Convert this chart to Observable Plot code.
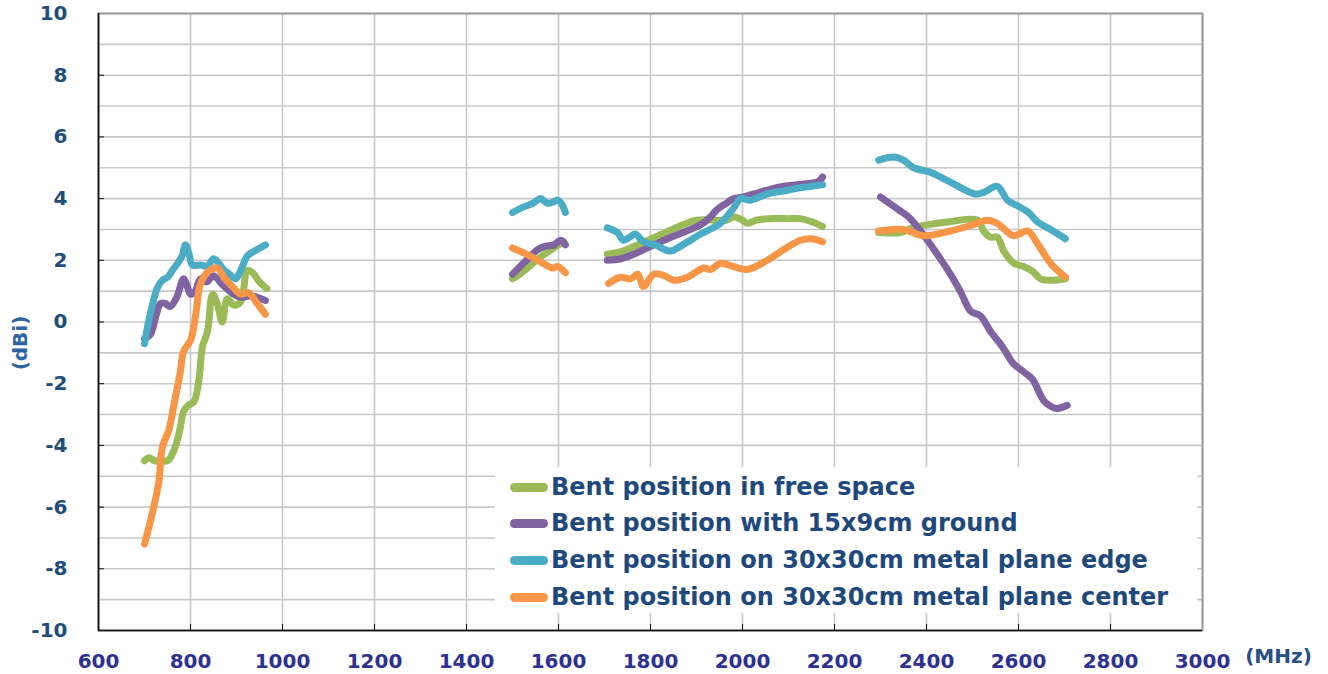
<!DOCTYPE html>
<html>
<head>
<meta charset="utf-8">
<script src="https://cdn.jsdelivr.net/npm/d3@7"></script>
<script src="https://cdn.jsdelivr.net/npm/@observablehq/plot@0.6"></script>
<style>
  html, body { margin: 0; padding: 0; background: #fff; }
  #wrap { position: relative; width: 1328px; height: 674px; }
  #legend { position: absolute; left: 495px; top: 467px; width: 702px; height: 146px; background: #fff; font-family: "DejaVu Sans", sans-serif; font-weight: bold; font-size: 24px; color: #1f497d; }
  .row { position: absolute; left: 0; height: 30px; display: flex; align-items: center; white-space: nowrap; }
  .sw { width: 38px; height: 9px; border-radius: 5px; margin-left: 15px; margin-right: 3px; }
</style>
</head>
<body>
<div id="wrap"></div>
<script>
// ---- data (MHz, dBi); null separates measured bands ----
const freeSpaceFreq = [700,710,722,735,750,760,770,778,785,795,807,818,826,837,848,858,869,880,894,909,924,935,950,966, null,
  1500,1520,1540,1560,1580,1600,1612, null,
  1706,1740,1780,1810,1840,1870,1900,1945,1965,1981,2000,2010,2030,2054,2100,2126,2150,2174, null,
  2296,2343,2370,2402,2450,2511,2524,2539,2554,2568,2590,2611,2630,2648,2670,2702];
const freeSpaceGain = [-4.5,-4.4,-4.5,-4.5,-4.5,-4.3,-3.9,-3.4,-2.9,-2.7,-2.6,-1.9,-0.8,-0.3,0.9,0.6,0.0,0.75,0.55,0.65,1.67,1.6,1.3,1.08, null,
  1.4,1.6,1.85,2.1,2.3,2.5,2.6, null,
  2.2,2.3,2.55,2.75,2.95,3.15,3.3,3.3,3.3,3.4,3.3,3.2,3.3,3.35,3.35,3.35,3.25,3.1, null,
  2.9,2.9,3.05,3.15,3.25,3.3,2.95,2.75,2.75,2.3,1.9,1.8,1.65,1.4,1.35,1.4];

const groundFreq = [700,713,725,735,745,756,770,785,792,800,810,822,835,850,870,894,910,930,945,963, null,
  1500,1520,1540,1555,1570,1590,1605,1615, null,
  1706,1735,1764,1800,1837,1870,1909,1930,1945,1965,1981,2000,2024,2060,2089,2120,2148,2165,2174, null,
  2300,2343,2365,2402,2430,2452,2475,2496,2517,2539,2565,2589,2610,2630,2655,2672,2685,2706];
const groundGain = [-0.55,-0.4,0.2,0.6,0.6,0.5,0.8,1.4,1.2,0.9,1.0,1.4,1.3,1.5,1.2,0.9,0.8,0.85,0.8,0.7, null,
  1.55,1.85,2.15,2.35,2.45,2.5,2.65,2.5, null,
  2.0,2.05,2.2,2.45,2.7,2.9,3.15,3.4,3.65,3.85,4.0,4.05,4.15,4.3,4.4,4.45,4.5,4.55,4.7, null,
  4.05,3.6,3.35,2.65,2.05,1.55,0.95,0.35,0.2,-0.3,-0.8,-1.35,-1.6,-1.85,-2.55,-2.75,-2.8,-2.7];

const edgeFreq = [700,713,728,739,750,762,772,782,789,797,804,822,836,850,862,872,885,898,910,924,945,963, null,
  1500,1520,1545,1561,1576,1590,1598,1608,1615, null,
  1706,1728,1741,1755,1767,1785,1810,1843,1870,1909,1952,1981,1996,2017,2054,2090,2126,2150,2174, null,
  2296,2329,2350,2372,2409,2450,2506,2524,2554,2576,2600,2622,2641,2670,2702];
const edgeGain = [-0.7,0.3,1.1,1.35,1.45,1.7,1.9,2.15,2.5,2.2,1.85,1.85,1.8,2.05,1.9,1.7,1.55,1.4,1.7,2.15,2.35,2.5, null,
  3.55,3.7,3.85,4.0,3.85,3.9,3.95,3.8,3.55, null,
  3.05,2.9,2.65,2.75,2.85,2.6,2.5,2.3,2.5,2.85,3.2,3.7,4.0,3.95,4.15,4.25,4.35,4.4,4.45, null,
  5.25,5.35,5.25,5.0,4.85,4.55,4.15,4.2,4.4,3.95,3.75,3.55,3.25,3.0,2.7];

const centerFreq = [700,717,731,739,753,765,778,785,800,804,812,822,840,858,875,894,909,926,945,963, null,
  1500,1530,1561,1587,1598,1615, null,
  1709,1735,1757,1772,1785,1807,1830,1851,1880,1916,1930,1952,1980,2010,2054,2090,2126,2150,2174, null,
  2296,2350,2393,2452,2500,2532,2554,2589,2620,2641,2670,2702];
const centerGain = [-7.2,-6.2,-5.2,-4.05,-3.5,-2.6,-1.6,-0.95,-0.6,-0.4,0.3,1.25,1.65,1.75,1.4,1.1,0.9,0.95,0.6,0.25, null,
  2.4,2.2,1.95,1.75,1.8,1.6, null,
  1.25,1.45,1.4,1.55,1.15,1.55,1.5,1.35,1.45,1.75,1.7,1.9,1.8,1.7,2.0,2.35,2.65,2.7,2.6, null,
  2.95,3.0,2.8,2.95,3.15,3.3,3.2,2.8,2.95,2.55,1.9,1.45];

const seriesNames = [
  "Bent position in free space",
  "Bent position with 15x9cm ground",
  "Bent position on 30x30cm metal plane edge",
  "Bent position on 30x30cm metal plane center"
];
const seriesColors = ["#9bbb59", "#8064a2", "#4bacc6", "#f79646"];
const xTicks = [600,800,1000,1200,1400,1600,1800,2000,2200,2400,2600,2800,3000];
const yTicks = [-10,-8,-6,-4,-2,0,2,4,6,8,10];
const yGrid = d3.range(-10, 11, 1);

const series = [
  [freeSpaceFreq, freeSpaceGain],
  [groundFreq, groundGain],
  [edgeFreq, edgeGain],
  [centerFreq, centerGain]
].map(([f, g], i) => f.map((x, j) => ({x, y: g[j], s: i})));

const font = "DejaVu Sans, sans-serif";

const chart = Plot.plot({
  width: 1328,
  height: 674,
  marginLeft: 98,
  marginRight: 126,
  marginTop: 13,
  marginBottom: 44,
  style: {background: "#fff", overflow: "visible"},
  x: {domain: [600, 3000]},
  y: {domain: [-10, 10]},
  marks: [
    Plot.gridY(yGrid, {stroke: "#c8c8c8", strokeOpacity: 1, strokeWidth: 1.6}),
    Plot.gridX(xTicks, {stroke: "#c8c8c8", strokeOpacity: 1, strokeWidth: 1.6}),
    Plot.frame({stroke: "#9a9a9a", strokeWidth: 2}),
    Plot.ruleX([600], {stroke: "#111", strokeWidth: 1.6}),
    Plot.ruleY([-10], {stroke: "#111", strokeWidth: 1.6}),
    Plot.axisX(xTicks.slice(1, -1), {anchor: "bottom", tickSize: 6, dy: -6, tickFormat: () => "", stroke: "#111", label: null}),
    Plot.axisY(yTicks.slice(1, -1), {anchor: "left", tickSize: 6, dx: 6, tickFormat: () => "", stroke: "#111", label: null}),
    Plot.axisX(xTicks, {anchor: "bottom", tickSize: 0, tickPadding: 23, tickFormat: d => String(d),
      fill: "#2e3192", fontSize: 20, fontWeight: "bold", fontFamily: font, label: null}),
    Plot.axisY(yTicks, {anchor: "left", tickSize: 0, tickPadding: 31, tickFormat: d => String(d),
      fill: "#1f4e79", fontSize: 20, fontWeight: "bold", fontFamily: font, label: null}),
    ...series.map((data, i) => Plot.line(data, {
      x: "x", y: "y", stroke: seriesColors[i], strokeWidth: 7,
      strokeLinecap: "round", strokeLinejoin: "round", curve: "catmull-rom"
    })),
    Plot.text(["(dBi)"], {frameAnchor: "left", dx: -78, dy: 21, rotate: -90, textAnchor: "middle",
      lineAnchor: "middle", fill: "#2e64a0", fontSize: 20, fontWeight: "bold", fontFamily: font}),
    Plot.text(["(MHz)"], {frameAnchor: "bottom-right", dx: 76, dy: 26, textAnchor: "middle",
      lineAnchor: "middle", fill: "#2a4f85", fontSize: 20, fontWeight: "bold", fontFamily: font})
  ]
});

const wrap = document.getElementById("wrap");
wrap.appendChild(chart);

const legend = document.createElement("div");
legend.id = "legend";
const rowCenters = [20, 56, 93, 130];
seriesNames.forEach((name, i) => {
  const row = document.createElement("div");
  row.className = "row";
  row.style.top = (rowCenters[i] - 15) + "px";
  const sw = document.createElement("div");
  sw.className = "sw";
  sw.style.background = seriesColors[i];
  const t = document.createElement("span");
  t.textContent = name;
  row.appendChild(sw);
  row.appendChild(t);
  legend.appendChild(row);
});
wrap.appendChild(legend);
</script>
</body>
</html>
